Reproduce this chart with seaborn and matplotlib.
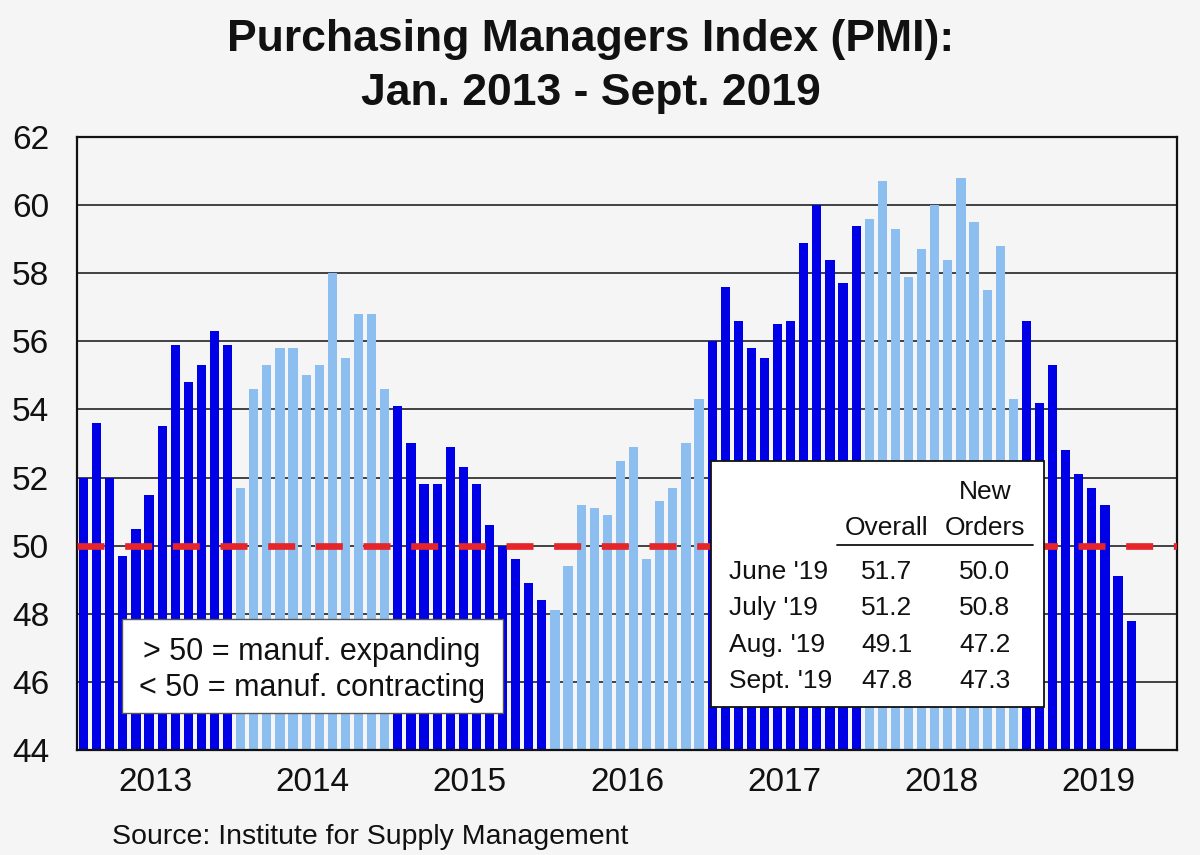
import pandas as pd
import matplotlib
matplotlib.use("Agg")
import matplotlib.pyplot as plt
import seaborn as sns
from matplotlib.patches import Rectangle
from matplotlib.lines import Line2D

# PMI readings, Jan 2013 - Sept 2019
pmi_2013 = [52.0, 53.6, 52.0, 49.7, 50.5, 51.5, 53.5, 55.9, 54.8, 55.3, 56.3, 55.9]
pmi_2014 = [51.7, 54.6, 55.3, 55.8, 55.8, 55.0, 55.3, 58.0, 55.5, 56.8, 56.8, 54.6]
pmi_2015 = [54.1, 53.0, 51.8, 51.8, 52.9, 52.3, 51.8, 50.6, 50.0, 49.6, 48.9, 48.4]
pmi_2016 = [48.1, 49.4, 51.2, 51.1, 50.9, 52.5, 52.9, 49.6, 51.3, 51.7, 53.0, 54.3]
pmi_2017 = [56.0, 57.6, 56.6, 55.8, 55.5, 56.5, 56.6, 58.9, 60.0, 58.4, 57.7, 59.4]
pmi_2018 = [59.6, 60.7, 59.3, 57.9, 58.7, 60.0, 58.4, 60.8, 59.5, 57.5, 58.8, 54.3]
pmi_2019 = [56.6, 54.2, 55.3, 52.8, 52.1, 51.7, 51.2, 49.1, 47.8]
years = [2013, 2014, 2015, 2016, 2017, 2018, 2019]

# summary table in the box
table_months = ["June '19", "July '19", "Aug. '19", "Sept. '19"]
table_overall = [51.7, 51.2, 49.1, 47.8]
table_new_orders = [50.0, 50.8, 47.2, 47.3]

series = [pmi_2013, pmi_2014, pmi_2015, pmi_2016, pmi_2017, pmi_2018, pmi_2019]
rows = []
for yr, vals in zip(years, series):
    for m, v in enumerate(vals):
        rows.append({"month": f"{yr}-{m + 1:02d}", "pmi": v,
                     "shade": "dark" if (yr - 2013) % 2 == 0 else "light"})
df = pd.DataFrame(rows)
# axis runs through Dec 2019, last three months left empty
all_months = [f"{yr}-{m:02d}" for yr in years for m in range(1, 13)]

sns.set_theme(style="white")
plt.rcParams["font.family"] = ["Liberation Sans", "DejaVu Sans"]

bg = "#f5f5f5"
ink = "#111111"
fig = plt.figure(figsize=(12, 8.55), dpi=100, facecolor=bg)
ax = fig.add_axes([77 / 1200, 1 - 750 / 855, 1100 / 1200, 613 / 855])
ax.set_facecolor(bg)

sns.barplot(data=df, x="month", y="pmi", hue="shade", order=all_months,
            palette={"dark": "#0000e6", "light": "#8dbef0"}, dodge=False,
            width=0.7, saturation=1, linewidth=0, legend=False, ax=ax, zorder=2)

ax.set_ylim(44, 62)
ax.set_xlim(-0.5, len(all_months) - 0.5)
ax.set_yticks(range(44, 63, 2))
ax.set_xticks([12 * i + 5.5 for i in range(len(years))])
ax.set_xticklabels([str(y) for y in years])
ax.tick_params(axis="both", length=0, labelsize=24, colors=ink)
ax.tick_params(axis="y", pad=20)
ax.tick_params(axis="x", pad=12)
ax.set_xlabel("")
ax.set_ylabel("")
ax.yaxis.grid(True, color=ink, lw=1.1)
ax.set_axisbelow(True)
for s in ax.spines.values():
    s.set_color(ink)
    s.set_linewidth(1.6)

# 50 = expansion / contraction threshold
ax.axhline(50, color="#e5252a", lw=4.8, dashes=(4.05, 3.1), zorder=3)


def pos(x, y):
    # pixel position in the picture -> axes fraction
    return (x - 77) / 1100, (750 - y) / 613


# left note box
x0, y0 = pos(122, 713)
x1, y1 = pos(503, 619)
ax.add_patch(Rectangle((x0, y0), x1 - x0, y1 - y0, transform=ax.transAxes,
                       facecolor="white", edgecolor="#555555", lw=1, zorder=5))
ax.text(*pos(312, 652), "> 50 = manuf. expanding", transform=ax.transAxes,
        ha="center", va="center", fontsize=22, color=ink, zorder=6)
ax.text(*pos(312, 688), "< 50 = manuf. contracting", transform=ax.transAxes,
        ha="center", va="center", fontsize=22, color=ink, zorder=6)

# table box
x0, y0 = pos(711, 707)
x1, y1 = pos(1044, 461)
ax.add_patch(Rectangle((x0, y0), x1 - x0, y1 - y0, transform=ax.transAxes,
                       facecolor="white", edgecolor=ink, lw=1.3, zorder=5))
tkw = dict(transform=ax.transAxes, fontsize=19, color=ink, zorder=6, va="center")
ax.text(*pos(985, 492), "New", ha="center", **tkw)
ax.text(*pos(887, 528), "Overall", ha="center", **tkw)
ax.text(*pos(985, 528), "Orders", ha="center", **tkw)
lx0, ly = pos(837, 545)
lx1, _ = pos(1033, 545)
ax.add_line(Line2D([lx0, lx1], [ly, ly], transform=ax.transAxes,
                   color=ink, lw=1.3, zorder=6))
for i, (mth, ov, no) in enumerate(zip(table_months, table_overall, table_new_orders)):
    yy = 572 + 36.3 * i
    ax.text(*pos(729, yy), mth, ha="left", **tkw)
    ax.text(*pos(887, yy), f"{ov:.1f}", ha="center", **tkw)
    ax.text(*pos(985, yy), f"{no:.1f}", ha="center", **tkw)

# title and source
fig.text(591 / 1200, 1 - 40 / 855, "Purchasing Managers Index (PMI):", ha="center",
         va="center", fontsize=32, fontweight="bold", color=ink)
fig.text(591 / 1200, 1 - 93 / 855, "Jan. 2013 - Sept. 2019", ha="center",
         va="center", fontsize=32, fontweight="bold", color=ink)
fig.text(112 / 1200, 1 - 837 / 855, "Source: Institute for Supply Management",
         ha="left", va="center", fontsize=20.5, color=ink)

fig.savefig("out.png", dpi=100, facecolor=bg)
